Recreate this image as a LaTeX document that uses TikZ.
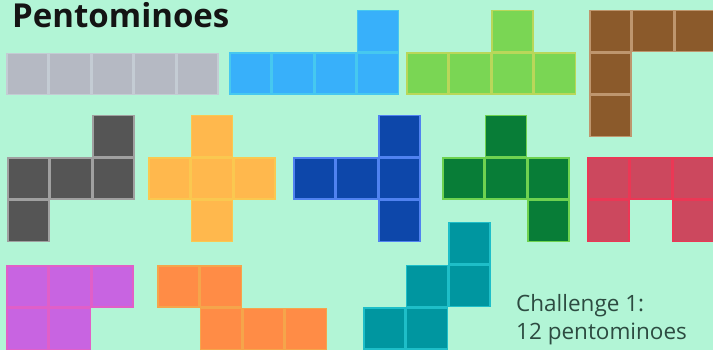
\documentclass[tikz,border=0pt]{standalone}
\usepackage{fontspec}
\setmainfont{Open Sans}
\usepackage{tikz}

\definecolor{bgMint}{RGB}{178,245,214}
\definecolor{iFill}{RGB}{181,185,195}
\definecolor{iLine}{RGB}{196,204,212}
\definecolor{lFill}{RGB}{56,176,250}
\definecolor{lLine}{RGB}{70,200,240}
\definecolor{yFill}{RGB}{122,214,84}
\definecolor{yLine}{RGB}{185,215,90}
\definecolor{vFill}{RGB}{139,90,43}
\definecolor{vLine}{RGB}{190,150,110}
\definecolor{zFill}{RGB}{85,85,85}
\definecolor{zLine}{RGB}{160,160,160}
\definecolor{xFill}{RGB}{255,184,77}
\definecolor{xLine}{RGB}{250,200,80}
\definecolor{tFill}{RGB}{13,71,170}
\definecolor{tLine}{RGB}{80,130,240}
\definecolor{fFill}{RGB}{8,125,55}
\definecolor{fLine}{RGB}{110,210,80}
\definecolor{uFill}{RGB}{204,72,94}
\definecolor{uLine}{RGB}{235,55,85}
\definecolor{pFill}{RGB}{200,100,225}
\definecolor{pLine}{RGB}{225,95,200}
\definecolor{nFill}{RGB}{255,140,70}
\definecolor{nLine}{RGB}{245,165,75}
\definecolor{wFill}{RGB}{0,150,160}
\definecolor{wLine}{RGB}{30,190,200}
\definecolor{noteText}{RGB}{45,75,65}

\begin{document}
\begin{tikzpicture}[x=1pt,y=-1pt,
  cell/.style={rectangle,minimum size=41pt,inner sep=0pt,line width=1.5pt},
  tileI/.style={cell,fill=iFill,draw=iLine},
  tileL/.style={cell,fill=lFill,draw=lLine},
  tileY/.style={cell,fill=yFill,draw=yLine},
  tileV/.style={cell,fill=vFill,draw=vLine},
  tileZ/.style={cell,fill=zFill,draw=zLine},
  tileX/.style={cell,fill=xFill,draw=xLine},
  tileT/.style={cell,fill=tFill,draw=tLine},
  tileF/.style={cell,fill=fFill,draw=fLine},
  tileU/.style={cell,fill=uFill,draw=uLine},
  tileP/.style={cell,fill=pFill,draw=pLine},
  tileN/.style={cell,fill=nFill,draw=nLine},
  tileW/.style={cell,fill=wFill,draw=wLine}]
  \fill[bgMint] (0,0) rectangle (713,350);
  \useasboundingbox (0,0) rectangle (713,350);
  \begin{scope}
  \clip (0,0) rectangle (713,350);
  % top row
  \node[tileI] (i1) at (27.25,74.25) {};
  \node[tileI] (i2) at (69.75,74.25) {};
  \node[tileI] (i3) at (112.25,74.25) {};
  \node[tileI] (i4) at (154.75,74.25) {};
  \node[tileI] (i5) at (197.25,74.25) {};
  \node[tileL] (l1) at (377.75,31.25) {};
  \node[tileL] (l2) at (250.25,73.75) {};
  \node[tileL] (l3) at (292.75,73.75) {};
  \node[tileL] (l4) at (335.25,73.75) {};
  \node[tileL] (l5) at (377.75,73.75) {};
  \node[tileY] (y1) at (512.25,31.25) {};
  \node[tileY] (y2) at (427.25,73.75) {};
  \node[tileY] (y3) at (469.75,73.75) {};
  \node[tileY] (y4) at (512.25,73.75) {};
  \node[tileY] (y5) at (554.75,73.75) {};
  \node[tileV] (v1) at (610.25,31.25) {};
  \node[tileV] (v2) at (652.75,31.25) {};
  \node[tileV] (v3) at (695.25,31.25) {};
  \node[tileV] (v4) at (610.25,73.75) {};
  \node[tileV] (v5) at (610.25,116.25) {};
  % middle row
  \node[tileZ] (z1) at (113.25,136.25) {};
  \node[tileZ] (z2) at (28.25,178.75) {};
  \node[tileZ] (z3) at (70.75,178.75) {};
  \node[tileZ] (z4) at (113.25,178.75) {};
  \node[tileZ] (z5) at (28.25,221.25) {};
  \node[tileX] (x1) at (211.75,136.25) {};
  \node[tileX] (x2) at (169.25,178.75) {};
  \node[tileX] (x3) at (211.75,178.75) {};
  \node[tileX] (x4) at (254.25,178.75) {};
  \node[tileX] (x5) at (211.75,221.25) {};
  \node[tileT] (t1) at (399.25,136.25) {};
  \node[tileT] (t2) at (314.25,178.75) {};
  \node[tileT] (t3) at (356.75,178.75) {};
  \node[tileT] (t4) at (399.25,178.75) {};
  \node[tileT] (t5) at (399.25,221.25) {};
  \node[tileF] (f1) at (505.75,136.25) {};
  \node[tileF] (f2) at (463.25,178.75) {};
  \node[tileF] (f3) at (505.75,178.75) {};
  \node[tileF] (f4) at (548.25,178.75) {};
  \node[tileF] (f5) at (548.25,221.25) {};
  \node[tileU] (u1) at (608.25,178.75) {};
  \node[tileU] (u2) at (650.75,178.75) {};
  \node[tileU] (u3) at (693.25,178.75) {};
  \node[tileU] (u4) at (608.25,221.25) {};
  \node[tileU] (u5) at (693.25,221.25) {};
  % bottom row
  \node[tileP] (p1) at (27.25,286.25) {};
  \node[tileP] (p2) at (69.75,286.25) {};
  \node[tileP] (p3) at (112.25,286.25) {};
  \node[tileP] (p4) at (27.25,328.75) {};
  \node[tileP] (p5) at (69.75,328.75) {};
  \node[tileN] (n1) at (178.25,286.25) {};
  \node[tileN] (n2) at (220.75,286.25) {};
  \node[tileN] (n3) at (220.75,328.75) {};
  \node[tileN] (n4) at (263.25,328.75) {};
  \node[tileN] (n5) at (305.75,328.75) {};
  \node[tileW] (w1) at (469.25,243.25) {};
  \node[tileW] (w2) at (426.75,285.75) {};
  \node[tileW] (w3) at (469.25,285.75) {};
  \node[tileW] (w4) at (384.25,328.25) {};
  \node[tileW] (w5) at (426.75,328.25) {};
  \end{scope}
  % texts
  \node[anchor=base west,inner sep=0pt,text=black!92,font=\fontsize{33}{40}\selectfont\bfseries] (title) at (12,28) {Pentominoes};
  \node[anchor=base west,inner sep=0pt,text=noteText,font=\fontsize{22.5}{27}\selectfont] (chal) at (516,311) {Challenge 1:};
  \node[anchor=base west,inner sep=0pt,text=noteText,font=\fontsize{22.5}{27}\selectfont] (count) at (516,339) {12 pentominoes};
\end{tikzpicture}
\end{document}
